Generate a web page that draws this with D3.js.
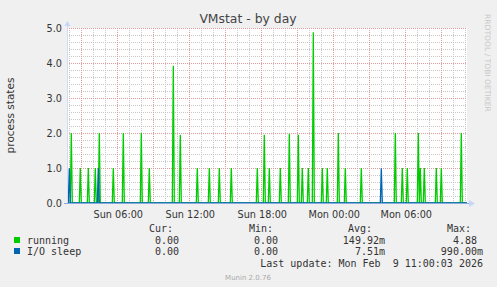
<!DOCTYPE html>
<html><head><meta charset="utf-8">
<script src="https://cdn.jsdelivr.net/npm/d3@7"></script>
<style>
body{margin:0;background:#f0f0f0}
svg{display:block}
text{white-space:pre}
</style>
</head><body>
<svg id="c" width="497" height="287"></svg>
<script>
// ---------------- data ----------------
const chartTitle = "VMstat - by day";
const yAxisLabel = "process states";
const timeStart = "2026-02-08 01:48:30";
const timeEnd = "2026-02-09 11:08:30";
const yTickValues = [0, 1, 2, 3, 4, 5];
const yMax = 5;

const seriesNames = ["running", "I/O sleep"];
const seriesColors = ["#00cc00", "#0066b3"];

const runningTimes = [
  "2026-02-08 02:10", "2026-02-08 02:55", "2026-02-08 03:35", "2026-02-08 04:10",
  "2026-02-08 04:30", "2026-02-08 05:40", "2026-02-08 06:30", "2026-02-08 08:00",
  "2026-02-08 08:40", "2026-02-08 10:40", "2026-02-08 11:15", "2026-02-08 12:40",
  "2026-02-08 13:40", "2026-02-08 14:30", "2026-02-08 15:30", "2026-02-08 17:40",
  "2026-02-08 18:15", "2026-02-08 18:40", "2026-02-08 19:35", "2026-02-08 20:20",
  "2026-02-08 21:05", "2026-02-08 21:25", "2026-02-08 21:55", "2026-02-08 22:20",
  "2026-02-08 23:05", "2026-02-08 23:30", "2026-02-09 00:25", "2026-02-09 01:00",
  "2026-02-09 02:20", "2026-02-09 05:10", "2026-02-09 05:45", "2026-02-09 06:10",
  "2026-02-09 07:05", "2026-02-09 07:15", "2026-02-09 07:35", "2026-02-09 08:35",
  "2026-02-09 09:00", "2026-02-09 10:40"
];
const runningValues = [
  2.0, 1.0, 1.0, 1.0,
  2.0, 1.0, 2.0, 2.0,
  1.0, 3.92, 1.95, 1.0,
  1.0, 1.0, 1.0, 1.0,
  1.95, 1.0, 1.0, 1.98,
  1.95, 1.0, 1.0, 4.88,
  1.0, 1.0, 2.0, 1.0,
  1.0, 2.0, 1.0, 1.0,
  2.0, 1.0, 1.0, 1.0,
  1.0, 2.0
];
const ioSleepTimes = ["2026-02-08 02:00", "2026-02-08 04:25", "2026-02-09 04:00"];
const ioSleepValues = [0.99, 0.99, 0.99];

const legendHeaders = ["Cur:", "Min:", "Avg:", "Max:"];
const curValues = ["0.00", "0.00"];
const minValues = ["0.00", "0.00"];
const avgValues = ["149.92m", "7.51m"];
const maxValues = ["4.88", "990.00m"];
const lastUpdateText = "Last update: Mon Feb  9 11:00:03 2026";
const creditText = "Munin 2.0.76";
const sideText = "RRDTOOL / TOBI OETIKER";

// ---------------- drawing ----------------
const svg = d3.select("#c");
const plot = {left: 67, right: 467, top: 28, bottom: 203};
const parseFull = d3.timeParse("%Y-%m-%d %H:%M:%S");
const parseMin = d3.timeParse("%Y-%m-%d %H:%M");

const x = d3.scaleTime()
  .domain([parseFull(timeStart), parseFull(timeEnd)])
  .range([plot.left, plot.right]);
const y = d3.scaleLinear().domain([0, yMax]).range([plot.bottom, plot.top]);

svg.append("rect").attr("width", 497).attr("height", 287).attr("fill", "#f0f0f0");
svg.append("rect").attr("x", plot.left).attr("y", plot.top)
  .attr("width", plot.right - plot.left).attr("height", plot.bottom - plot.top)
  .attr("fill", "#ffffff");

const crisp = v => Math.round(v) + 0.5;
const grid = svg.append("g");

// minor vertical (hourly)
const hours = x.ticks(d3.timeHour.every(1));
hours.filter(d => d.getHours() % 3 !== 0).forEach(d => {
  grid.append("line").attr("x1", crisp(x(d))).attr("x2", crisp(x(d)))
    .attr("y1", plot.top).attr("y2", plot.bottom)
    .attr("stroke", "#c8c8c8").attr("stroke-dasharray", "1,1");
});
// minor horizontal
d3.range(0, yMax + 0.001, 0.2).map(v => +v.toFixed(1))
  .filter(v => Math.abs(v - Math.round(v)) > 0.01).forEach(v => {
  grid.append("line").attr("x1", plot.left).attr("x2", plot.right)
    .attr("y1", crisp(y(v))).attr("y2", crisp(y(v)))
    .attr("stroke", "#c8c8c8").attr("stroke-dasharray", "1,1");
});
// major vertical (3h)
hours.filter(d => d.getHours() % 3 === 0).forEach(d => {
  grid.append("line").attr("x1", crisp(x(d))).attr("x2", crisp(x(d)))
    .attr("y1", plot.top).attr("y2", plot.bottom)
    .attr("stroke", "#e39a9a").attr("stroke-dasharray", "1,1");
});
// major horizontal
yTickValues.filter(v => v > 0).forEach(v => {
  grid.append("line").attr("x1", plot.left).attr("x2", plot.right)
    .attr("y1", crisp(y(v))).attr("y2", crisp(y(v)))
    .attr("stroke", "#e39a9a").attr("stroke-dasharray", "1,1");
});

// series
const step = 5 * 60 * 1000;
function buildPoints(times, values) {
  const pts = [[x.domain()[0], 0]];
  times.forEach((t, i) => {
    const d = parseMin(t);
    pts.push([new Date(+d - step), 0], [d, values[i]], [new Date(+d + step), 0]);
  });
  pts.push([x.domain()[1], 0]);
  return pts;
}
const line = d3.line().x(d => x(d[0])).y(d => y(d[1]));
[[runningTimes, runningValues], [ioSleepTimes, ioSleepValues]].forEach((s, i) => {
  svg.append("path").attr("d", line(buildPoints(s[0], s[1])))
    .attr("fill", "none").attr("stroke", seriesColors[i]).attr("stroke-width", 1.3)
    .attr("stroke-linejoin", "miter");
});

// axes
svg.append("line").attr("x1", plot.left + 0.5).attr("x2", plot.left + 0.5)
  .attr("y1", plot.bottom).attr("y2", plot.top - 4)
  .attr("stroke", "#d2daf4");
svg.append("line").attr("x1", plot.left - 3).attr("x2", plot.right + 2)
  .attr("y1", plot.bottom + 0.5).attr("y2", plot.bottom + 0.5)
  .attr("stroke", "#8fa8e4");
svg.append("path")
  .attr("d", `M${plot.left - 2.5},${plot.top - 2} L${plot.left + 0.5},${plot.top - 7} L${plot.left + 3.5},${plot.top - 2} Z`)
  .attr("fill", "#c9d4fb");
svg.append("path")
  .attr("d", `M${plot.right + 2},${plot.bottom - 3} L${plot.right + 8},${plot.bottom + 0.5} L${plot.right + 2},${plot.bottom + 4} Z`)
  .attr("fill", "#c9d4fb");

// y tick labels
svg.append("g").selectAll("text").data(yTickValues).join("text")
  .attr("x", 62).attr("y", d => y(d) + 3.5)
  .attr("text-anchor", "end")
  .attr("font-family", "DejaVu Sans").attr("font-size", 9.7).attr("fill", "#333")
  .text(d => d.toFixed(1));

// x tick labels (every 6h)
const fmt = d3.timeFormat("%a %H:%M");
svg.append("g").selectAll("text")
  .data(hours.filter(d => d.getHours() % 6 === 0)).join("text")
  .attr("x", d => x(d) + 1).attr("y", 218)
  .attr("text-anchor", "middle")
  .attr("font-family", "DejaVu Sans").attr("font-size", 9.7).attr("fill", "#333")
  .text(d => fmt(d));

// title
svg.append("text").attr("x", 248).attr("y", 23).attr("text-anchor", "middle")
  .attr("font-family", "DejaVu Sans").attr("font-size", 12.4).attr("fill", "#444")
  .text(chartTitle);

// y axis label
svg.append("text").attr("transform", `translate(14,${(plot.top + plot.bottom) / 2}) rotate(-90)`)
  .attr("text-anchor", "middle")
  .attr("font-family", "DejaVu Sans").attr("font-size", 10.5).attr("fill", "#333")
  .text(yAxisLabel);

// side text
svg.append("text").attr("transform", "translate(485,14) rotate(90)")
  .attr("font-family", "DejaVu Sans").attr("font-size", 7.6).attr("fill", "#c8c8c8")
  .text(sideText);

// legend
const mono = "DejaVu Sans Mono";
const lg = svg.append("g").attr("font-family", mono).attr("font-size", 10).attr("fill", "#333");
const headerX = [149, 249, 348, 447];
legendHeaders.forEach((h, i) => lg.append("text").attr("x", headerX[i]).attr("y", 232).text(h));
const colEnd = [185, 284, 385, 483];
const charW = 6.02;
const rowsY = [243.5, 254.5];
seriesNames.forEach((name, i) => {
  lg.append("rect").attr("x", 14).attr("y", rowsY[i] - 6.5).attr("width", 6).attr("height", 6)
    .attr("fill", seriesColors[i]);
  lg.append("text").attr("x", 27).attr("y", rowsY[i]).text(name);
  [curValues, minValues, avgValues, maxValues].forEach((arr, c) => {
    const v = arr[i];
    const hasSuffix = /[a-zA-Z]$/.test(v);
    lg.append("text").attr("x", colEnd[c] - (hasSuffix ? 0 : charW)).attr("y", rowsY[i])
      .attr("text-anchor", "end").text(v);
  });
});
lg.append("text").attr("x", 483).attr("y", 266.5).attr("text-anchor", "end").text(lastUpdateText);
svg.append("text").attr("x", 248).attr("y", 279.5).attr("text-anchor", "middle")
  .attr("font-family", "DejaVu Sans").attr("font-size", 7).attr("fill", "#aaaaaa")
  .text(creditText);
</script>
</body></html>
